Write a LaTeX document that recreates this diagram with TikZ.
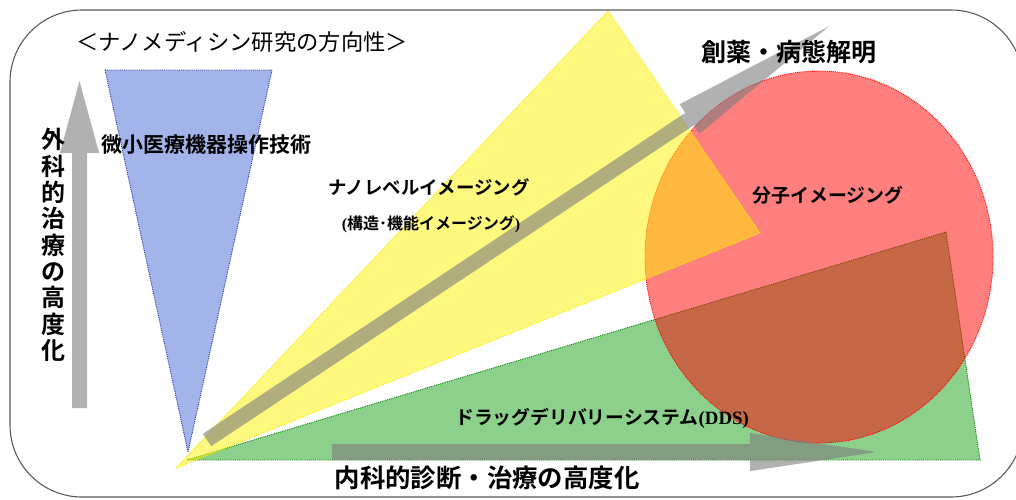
\documentclass[tikz,border=0pt]{standalone}
\usepackage{fontspec}
\setmainfont{Noto Sans CJK JP}[BoldFont={Noto Sans CJK JP Bold}]
\newfontfamily\serifrm{Liberation Serif}
\usetikzlibrary{arrows.meta}

\definecolor{framegray}{RGB}{90,90,90}
\definecolor{blueline}{RGB}{40,50,170}
\definecolor{bluefill}{RGB}{100,130,220}
\definecolor{yellowline}{RGB}{245,235,0}
\definecolor{greenline}{RGB}{0,130,0}
\definecolor{greenfill}{RGB}{0,150,0}
\definecolor{arrowgray}{RGB}{125,125,125}

\begin{document}
\begin{tikzpicture}
      [x=1pt,y=-1pt,
       zone/.style={densely dotted,line width=0.9pt},
       label/.style={font=\bfseries\fontsize{#1}{#1}\selectfont,inner sep=0pt},
       block arrow/.style={arrowgray,line width=#1}]
        \useasboundingbox (0,0) rectangle (1016,499);

        \draw[framegray,line width=1.1pt,rounded corners=72pt] (10,10) rectangle (1023,497);

        \filldraw[zone,draw=blueline,fill=bluefill,fill opacity=0.6] (105,70) -- (272,70) -- (188,452) -- cycle;
        \filldraw[zone,draw=greenline,fill=greenfill,fill opacity=0.45] (187,460) -- (946,232) -- (980,460) -- cycle;
        \filldraw[zone,draw=red,fill=red,fill opacity=0.5] (819,257) ellipse [x radius=174,y radius=186];
        \filldraw[zone,draw=yellowline,fill=yellow,fill opacity=0.5] (176,468) -- (608,11) -- (760,233) -- cycle;

        \coordinate (sbot) at (79.5,408);
        \coordinate (stop) at (79.5,74);
        \coordinate (nbot) at (207,440);
        \coordinate (ntip) at (846,15);
        \coordinate (ileft) at (332,452);
        \coordinate (itip) at (892,452);

        \begin{scope}[transparency group,opacity=0.6]
          \draw[block arrow=15pt,-{Triangle[length=79pt,width=34pt]}] (sbot) -- (stop);
          \draw[block arrow=15pt,-{Triangle[length=188pt,width=31pt]}] (nbot) -- (ntip);
          \draw[block arrow=16pt,-{Triangle[length=142pt,width=33pt]}] (ileft) -- (itip);
        \end{scope}

        \node[inner sep=0pt,font=\fontsize{22.3}{22.3}\selectfont] (title) at (242,42) {＜ナノメディシン研究の方向性＞};
        \node[label=24,align=center,font=\bfseries\fontsize{24}{26.3}\selectfont] (surgery) at (53,245)
          {外\\科\\的\\治\\療\\の\\高\\度\\化};
        \node[label=21] (devices) at (206,145) {微小医療機器操作技術};
        \node[label=18.4] (nano) at (429,187) {ナノレベルイメージング};
        \node[label=16] (nanosub) at (431,224) {{\serifrm(}構造･機能イメージング{\serifrm)}};
        \node[label=25] (drug) at (789,52) {創薬・病態解明};
        \node[label=18.9] (molecular) at (828,195) {分子イメージング};
        \node[label=18.8] (dds) at (602,418) {ドラッグデリバリーシステム{\serifrm(DDS)}};
        \node[label=25.4] (internal) at (487,478) {内科的診断・治療の高度化};

      \end{tikzpicture}
\end{document}
